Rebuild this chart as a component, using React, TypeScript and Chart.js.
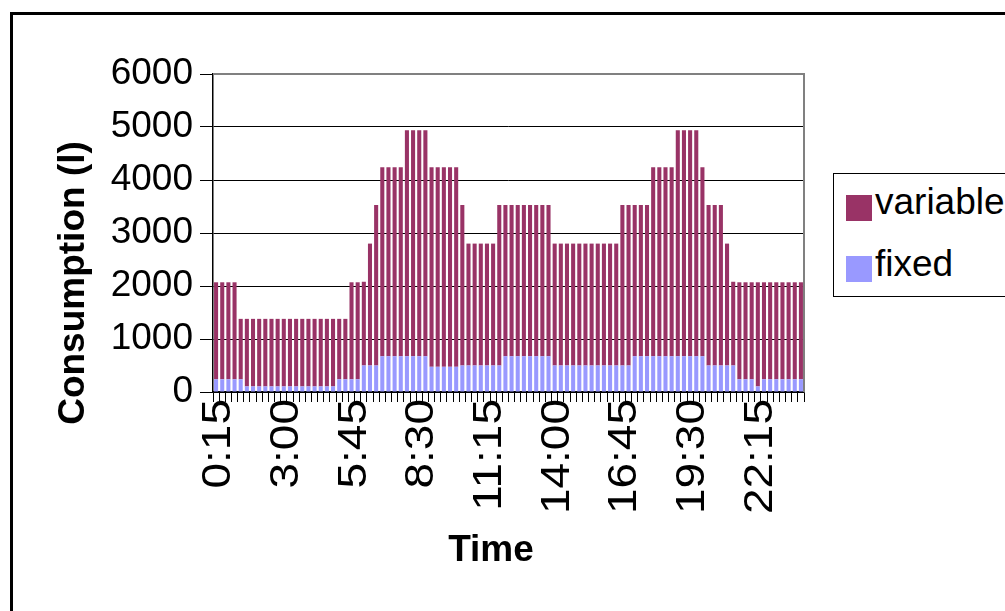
import React, { useEffect, useRef } from 'react';
import { Chart, registerables } from 'chart.js';

Chart.register(...registerables);

const timeLabels = [
  '0:15', '0:30', '0:45', '1:00', '1:15', '1:30', '1:45', '2:00',
  '2:15', '2:30', '2:45', '3:00', '3:15', '3:30', '3:45', '4:00',
  '4:15', '4:30', '4:45', '5:00', '5:15', '5:30', '5:45', '6:00',
  '6:15', '6:30', '6:45', '7:00', '7:15', '7:30', '7:45', '8:00',
  '8:15', '8:30', '8:45', '9:00', '9:15', '9:30', '9:45', '10:00',
  '10:15', '10:30', '10:45', '11:00', '11:15', '11:30', '11:45', '12:00',
  '12:15', '12:30', '12:45', '13:00', '13:15', '13:30', '13:45', '14:00',
  '14:15', '14:30', '14:45', '15:00', '15:15', '15:30', '15:45', '16:00',
  '16:15', '16:30', '16:45', '17:00', '17:15', '17:30', '17:45', '18:00',
  '18:15', '18:30', '18:45', '19:00', '19:15', '19:30', '19:45', '20:00',
  '20:15', '20:30', '20:45', '21:00', '21:15', '21:30', '21:45', '22:00',
  '22:15', '22:30', '22:45', '23:00', '23:15', '23:30', '23:45', '24:00',
];

const fixedValues = [
  240, 240, 240, 240, 240, 105, 105, 105,
  105, 105, 105, 105, 105, 105, 105, 105,
  105, 105, 105, 105, 240, 240, 240, 240,
  500, 500, 500, 675, 675, 675, 675, 675,
  675, 675, 675, 475, 475, 475, 475, 475,
  500, 500, 500, 500, 500, 500, 500, 675,
  675, 675, 675, 675, 675, 675, 675, 500,
  500, 500, 500, 500, 500, 500, 500, 500,
  500, 500, 500, 500, 675, 675, 675, 675,
  675, 675, 675, 675, 675, 675, 675, 675,
  500, 500, 500, 500, 500, 240, 240, 240,
  105, 240, 240, 240, 240, 240, 240, 240,
];

const variableValues = [
  1830, 1830, 1830, 1830, 1140, 1275, 1275, 1275,
  1275, 1275, 1275, 1275, 1275, 1275, 1275, 1275,
  1275, 1275, 1275, 1275, 1140, 1140, 1830, 1830,
  1580, 2300, 3030, 3565, 3565, 3565, 3565, 4265,
  4265, 4265, 4265, 3765, 3765, 3765, 3765, 3765,
  3030, 2300, 2300, 2300, 2300, 2300, 3030, 2855,
  2855, 2855, 2855, 2855, 2855, 2855, 2855, 2300,
  2300, 2300, 2300, 2300, 2300, 2300, 2300, 2300,
  2300, 2300, 3030, 3030, 2855, 2855, 2855, 3565,
  3565, 3565, 3565, 4265, 4265, 4265, 4265, 3565,
  3030, 3030, 3030, 2300, 1580, 1830, 1830, 1830,
  1965, 1830, 1830, 1830, 1830, 1830, 1830, 1830,
];

const seriesNames = ['variable', 'fixed'];
const seriesColors = ['#993366', '#9999FF'];
const yMin = 0;
const yMax = 6000;
const yStep = 1000;
const labelEvery = 11;
const xTitle = 'Time';
const yTitle = 'Consumption (l)';

const FONT = '"Liberation Sans", Arial, Helvetica, sans-serif';

const framePlugin = {
  id: 'excelFrame',
  beforeDatasetsDraw(chart: any) {
    const { ctx, chartArea: a } = chart;
    ctx.save();
    ctx.strokeStyle = '#808080';
    ctx.lineWidth = 2;
    ctx.beginPath();
    ctx.moveTo(a.left, a.top);
    ctx.lineTo(a.right, a.top);
    ctx.lineTo(a.right, a.bottom);
    ctx.stroke();
    ctx.restore();
  },
  afterDraw(chart: any) {
    const { ctx } = chart;
    const xs = chart.scales.x;
    // category tick labels (rotated, stretched along the reading direction like the original)
    ctx.save();
    ctx.fillStyle = '#000';
    ctx.font = '40px ' + FONT;
    ctx.textAlign = 'right';
    ctx.textBaseline = 'middle';
    timeLabels.forEach((lab, i) => {
      if (i % labelEvery !== 0) return;
      const x = xs.getPixelForTick(i);
      ctx.save();
      ctx.translate(x + 3, xs.top + 7);
      ctx.rotate(-Math.PI / 2);
      ctx.scale(1.15, 1);
      ctx.fillText(lab, 0, 0);
      ctx.restore();
    });
    ctx.restore();

    // axis titles
    ctx.save();
    ctx.fillStyle = '#000';
    ctx.font = 'bold 37px ' + FONT;
    ctx.textAlign = 'center';
    ctx.textBaseline = 'middle';
    ctx.fillText(xTitle, 491, 551);
    ctx.translate(74, 283);
    ctx.rotate(-Math.PI / 2);
    ctx.fillText(yTitle, 0, 0);
    ctx.restore();
  },
};

function ChartCanvas() {
  const ref = useRef<HTMLCanvasElement | null>(null);
  useEffect(() => {
    if (!ref.current) return;
    const tickFont = { family: FONT, size: 37 };
    const chart = new Chart(ref.current, {
      type: 'bar',
      data: {
        labels: timeLabels,
        datasets: [
          {
            label: seriesNames[1],
            data: fixedValues,
            backgroundColor: seriesColors[1],
            borderWidth: 0,
            barPercentage: 0.66,
            categoryPercentage: 1,
          },
          {
            label: seriesNames[0],
            data: variableValues,
            backgroundColor: seriesColors[0],
            borderWidth: 0,
            barPercentage: 0.66,
            categoryPercentage: 1,
          },
        ],
      },
      options: {
        responsive: false,
        animation: false,
        devicePixelRatio: 1,
        layout: { padding: { top: 74, right: 201, bottom: 0, left: 0 } },
        plugins: {
          legend: { display: false },
          tooltip: { enabled: false },
        },
        scales: {
          x: {
            stacked: true,
            offset: true,
            grid: {
              offset: true,
              drawOnChartArea: false,
              drawTicks: true,
              tickLength: 10,
              color: '#000',
              lineWidth: 1,
            },
            border: { color: '#000', width: 1.5 },
            ticks: {
              display: false,
              autoSkip: false,
              maxRotation: 90,
              minRotation: 90,
              callback: function (this: any, value: any, index: number) {
                return index % labelEvery === 0 ? timeLabels[index] : '';
              },
            },
            afterFit: (s: any) => {
              s.height = 219;
            },
          },
          y: {
            stacked: true,
            min: yMin,
            max: yMax,
            ticks: {
              stepSize: yStep,
              padding: 7,
              color: '#000',
              font: tickFont,
              callback: (v: any) => String(v),
            },
            grid: {
              color: '#000',
              lineWidth: 1,
              tickLength: 13,
            },
            border: { color: '#000', width: 1.5 },
            afterFit: (s: any) => {
              s.width = 213;
            },
          },
        },
      },
      plugins: [framePlugin],
    });
    return () => chart.destroy();
  }, []);
  return <canvas ref={ref} width={1005} height={611} style={{ position: 'absolute', left: 0, top: 0 }} />;
}

export default function App() {
  const textStyle: React.CSSProperties = {
    position: 'absolute',
    fontFamily: FONT,
    fontSize: 37,
    lineHeight: '37px',
    color: '#000',
    whiteSpace: 'nowrap',
    left: 875,
  };
  return (
    <div
      style={{
        position: 'absolute',
        left: 0,
        top: 0,
        width: 1005,
        height: 611,
        overflow: 'hidden',
        background: '#fff',
      }}
    >
      <div
        style={{
          position: 'absolute',
          left: 10,
          top: 12,
          width: 1200,
          height: 800,
          border: '3px solid #000',
        }}
      />
      <ChartCanvas />
      <div
        style={{
          position: 'absolute',
          left: 833,
          top: 173,
          width: 300,
          height: 122,
          border: '1px solid #000',
          background: '#fff',
        }}
      />
      <div style={{ position: 'absolute', left: 846, top: 195, width: 26, height: 26, background: seriesColors[0] }} />
      <div style={{ ...textStyle, top: 183 }}>{seriesNames[0]}</div>
      <div style={{ position: 'absolute', left: 846, top: 256, width: 26, height: 26, background: seriesColors[1] }} />
      <div style={{ ...textStyle, top: 245 }}>{seriesNames[1]}</div>
    </div>
  );
}
